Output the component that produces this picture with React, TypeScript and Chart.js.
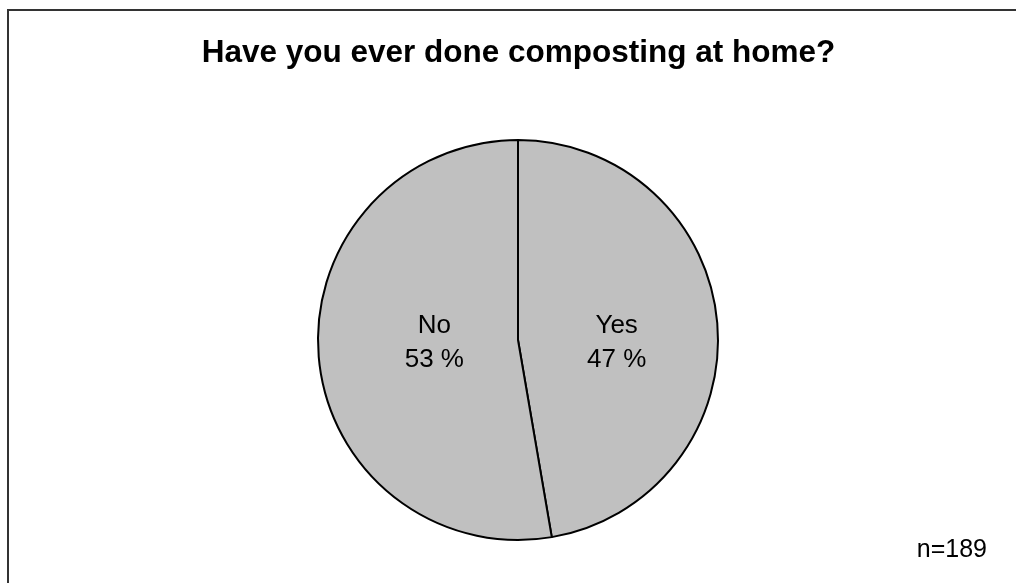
import React, { useEffect, useRef } from "react";
import { Chart, registerables } from "chart.js";

Chart.register(...registerables);

const titleText = "Have you ever done composting at home?";
const categories = ["Yes", "No"];
const percentValues = [47.3, 52.7];
const footnote = "n=189";
const labelRadiusFactor = [0.495, 0.42];

const FONT = '"Liberation Sans", Arial, Helvetica, sans-serif';

const textPlugin = {
  id: "textPlugin",
  afterDraw(chart: any) {
    const ctx = chart.ctx as CanvasRenderingContext2D;
    const meta = chart.getDatasetMeta(0);
    ctx.save();
    ctx.fillStyle = "#000";
    // title
    ctx.font = `bold 31.5px ${FONT}`;
    ctx.textAlign = "center";
    ctx.textBaseline = "alphabetic";
    const cxArea = (chart.chartArea.left + chart.chartArea.right) / 2;
    ctx.fillText(titleText, cxArea + 0.5, 51);
    // slice labels
    ctx.font = `26px ${FONT}`;
    meta.data.forEach((arc: any, i: number) => {
      const p = arc.getProps(["x", "y", "startAngle", "endAngle", "outerRadius"], true);
      const mid = (p.startAngle + p.endAngle) / 2;
      const x = p.x + Math.cos(mid) * p.outerRadius * labelRadiusFactor[i];
      const y = p.y;
      ctx.fillText(categories[i], x, y - 7);
      ctx.fillText(`${Math.round(percentValues[i])} %`, x, y + 27);
    });
    // footnote
    ctx.font = `25px ${FONT}`;
    ctx.textAlign = "right";
    ctx.fillText(footnote, chart.width - 29, 546);
    ctx.restore();
  },
};

export default function App() {
  const ref = useRef<HTMLCanvasElement | null>(null);
  useEffect(() => {
    if (!ref.current) return;
    const chart = new Chart(ref.current, {
      type: "pie",
      data: {
        labels: categories,
        datasets: [
          {
            data: percentValues,
            backgroundColor: "#c0c0c0",
            borderColor: "#000000",
            borderWidth: 2,
            hoverBorderWidth: 2,
            hoverOffset: 0,
            offset: 0,
          },
        ],
      },
      options: {
        animation: false,
        responsive: false,
        events: [],
        layout: { padding: { top: 128, bottom: 42, left: 40, right: 29 } },
        plugins: {
          legend: { display: false },
          tooltip: { enabled: false },
          title: { display: false },
        },
      },
      plugins: [textPlugin],
    });
    return () => chart.destroy();
  }, []);

  return (
    <div
      style={{
        position: "absolute",
        left: 7,
        top: 9,
        borderTop: "2px solid #333",
        borderLeft: "2px solid #333",
        width: 1007,
        height: 572,
        background: "#fff",
      }}
    >
      <canvas ref={ref} width={1007} height={572} style={{ display: "block" }} />
    </div>
  );
}
